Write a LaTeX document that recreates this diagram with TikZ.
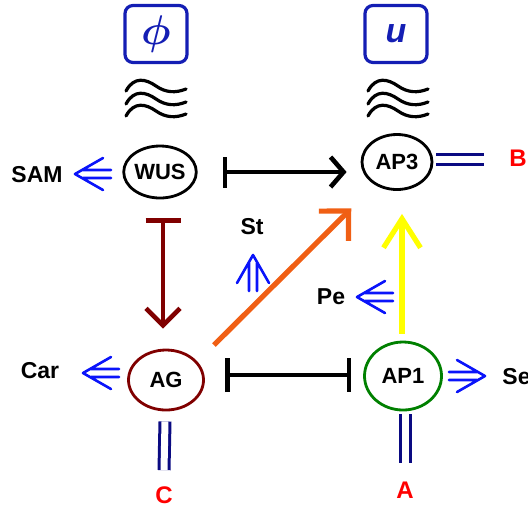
\documentclass[tikz,border=0pt]{standalone}
\usepackage{bm}
\usepackage{fontspec}
\setmainfont{Liberation Sans}
\usetikzlibrary{positioning,calc,shapes.geometric,arrows.meta}
\definecolor{boxblue}{RGB}{20,30,180}
\definecolor{sigblue}{RGB}{10,20,250}
\definecolor{bondnavy}{RGB}{10,10,130}
\definecolor{agred}{RGB}{128,0,0}
\definecolor{apgreen}{RGB}{0,128,0}
\definecolor{storange}{RGB}{240,95,20}
\definecolor{peyellow}{RGB}{255,255,0}

\tikzset{
    ripple/.pic={\draw[line width=1.6pt, line cap=round] (-30,5) .. controls (-22,-10) and (-10,-7) .. (0,0) .. controls (10,7) and (20,7) .. (30,3);},
    sig/.pic={\draw[sigblue, line width=1.3pt, line cap=round, line join=round] (28,-16) -- (0,0) -- (28,16) (8,-4) -- (36,-4) (8,4) -- (36,4);}
}

\begin{document}
\begin{tikzpicture}[
    x=0.5pt, y=-0.5pt,
    gene/.style={draw, ellipse, line width=1.4pt, inner sep=0pt, font=\fontsize{11}{13}\selectfont\bfseries},
    lbl/.style={inner sep=0pt, font=\fontsize{11.5}{13}\selectfont\bfseries},
    tag/.style={inner sep=0pt, text=red, font=\fontsize{12}{14}\selectfont\bfseries},
    hormone/.style={draw=boxblue, text=boxblue, line width=1.6pt, rounded corners=4pt, minimum width=31pt, minimum height=28.5pt, inner sep=0pt},
    inh/.style={line width=2.3pt, {Bar[width=15.5pt]}-{Straight Barb[length=6.5pt, width=15pt]}},
    blunt/.style={line width=2.3pt, {Bar[width=17pt]}-{Bar[width=17pt]}},
    prom/.style={line width=2.6pt, -{Straight Barb[length=14.5pt, width=18.5pt]}},
    bond/.style={draw=bondnavy, double=white, double distance=3.5pt, line width=1.5pt}
]
\useasboundingbox (0,0) rectangle (528,510);

% hormones
\node[hormone] (phi) at (156,34) {\fontsize{20}{20}\selectfont$\bm{\phi}$};
\node[hormone] (u) at (396,34) {\fontsize{17}{17}\selectfont\bfseries\itshape u};
\foreach \y in {86,99,111} {
    \pic at (156,\y) {ripple};
    \pic at (398,\y) {ripple};
}

% genes
\node[gene, minimum width=33pt, minimum height=26pt] (WUS) at (160,172) {WUS};
\node[gene, minimum width=35pt, minimum height=27.5pt] (AP3) at (397,162) {AP3};
\node[gene, draw=agred, minimum width=37.5pt, minimum height=30pt] (AG) at (166,380) {AG};
\node[gene, draw=apgreen, minimum width=38.5pt, minimum height=34pt] (AP1) at (403,376) {AP1};

% outputs
\node[lbl] (sam) at (37,175) {SAM};
\node[lbl] (car) at (40,371) {Car};
\node[lbl] (st) at (252,227) {St};
\node[lbl] (pe) at (331,297) {Pe};
\node[lbl, anchor=west] (se) at (502,377) {Se};
\node[tag] (B) at (518,158) {B};
\node[tag] (C) at (164,495) {C};
\node[tag] (A) at (405,490) {A};

\pic at (75,174) {sig};
\pic at (83,373) {sig};
\pic at (357,297) {sig};
\pic[rotate=180] at (485,376) {sig};
\pic[rotate=-90] at (253,255) {sig};

% regulation
\draw[inh] ($(WUS.east)+(25,0)$) -- ($(AP3.west |- WUS.east)+(-14,0)$);
\draw[inh, agred, {Bar[width=17.5pt]}-{Straight Barb[length=8.5pt, width=17pt]}] ($(WUS.south)+(3,19)$) -- ($(AG.north)+(-3,-20)$);
\draw[blunt] ($(AG.east)+(20,-5)$) -- ($(AP1.west)+(-12,-1)$);
\draw[prom, peyellow] ($(AP1.north)+(-1,-7)$) -- ($(AP3.south)+(5,23)$);
\draw[prom, storange, -{Straight Barb[length=10.6pt, width=21pt]}] ($(AG.center)+(48,-35)$) -- ($(AP3.south west)+(-20,26)$);

% inputs
\draw[bond] ($(AP3.east)+(3,-3)$) -- ($(B.west |- AP3.east)+(-25,-3)$);
\draw[bond] ($(AG.south)+(-1,10)$) -- ($(C.north)+(0,-16)$);
\draw[bond] ($(AP1.south)+(2,3)$) -- ($(A.north)+(0,-18)$);
\end{tikzpicture}
\end{document}
